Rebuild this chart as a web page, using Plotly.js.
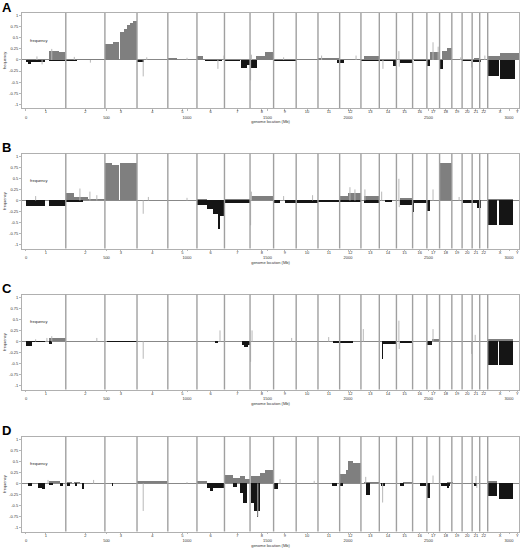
<!DOCTYPE html>
<html>
<head>
<meta charset="utf-8">
<script src="https://cdn.plot.ly/plotly-3.0.1.min.js"></script>
<style>html,body{margin:0;padding:0;background:#fff;}#chart{width:520px;height:549px;}</style>
</head>
<body>
<div id="chart"></div>
<script>
// ---------- data ----------
const chromNames = ['1','2','3','4','5','6','7','8','9','10','11','12','13','14','15','16','17','18','19','20','21','22','X','Y'];
const chromLengths = [247.2,242.9,199.5,191.3,180.9,170.9,158.8,146.3,140.3,135.4,134.5,132.3,114.1,106.4,100.3,88.8,78.8,76.1,63.8,62.4,46.9,49.7,154.9,57.8];
const mbTicks = [0,500,1000,1500,2000,2500,3000];
const yTickVals = [-1,-0.75,-0.5,-0.25,0,0.25,0.5,0.75,1];
const yTickText = ['-1','-0.75','-0.5','-0.25','0','0.25','0.5','0.75','1'];
const panelLetters = ['A','B','C','D'];

// [start Mb, end Mb, frequency]
const gainsA = [[6,118,0.03],[143,205,0.21],[205,245,0.17],[250,490,0.015],
 [491,540,0.37],[540,579,0.41],[584,609,0.64],[609,627,0.70],[627,646,0.78],[646,665,0.83],[665,688,0.87],
 [882,938,0.04],[1062,1099,0.1],[1099,1232,0.03],[1428,1484,0.08],[1484,1537,0.17],[1540,1676,0.02],
 [1677,1813,0.03],[1814,1944,0.04],[1949,2080,0.03],[2099,2192,0.09],[2410,2490,0.03],[2509,2571,0.17],
 [2586,2613,0.2],[2613,2648,0.27],[2782,2813,0.05],[2825,2866,0.03],[2871,2944,0.09],[2944,3060,0.15]];
const lossesA = [[0,12,-0.05],[12,31,-0.1],[31,118,-0.05],[143,242,-0.02],[248,317,-0.03],[690,733,-0.04],
 [1112,1218,-0.02],[1232,1329,-0.02],[1333,1370,-0.17],[1370,1391,-0.12],[1397,1435,-0.18],
 [1538,1677,-0.03],[1931,1975,-0.06],[2081,2192,-0.03],[2198,2279,-0.03],[2279,2298,-0.13],
 [2323,2404,-0.07],[2410,2488,-0.02],[2490,2509,-0.14],[2573,2588,-0.2],[2711,2769,-0.03],[2776,2825,-0.04],
 [2871,2939,-0.37],[2944,3037,-0.43]];
// [position Mb, frequency]
const spikesA = [[68,0.08],[100,-0.1],[160,0.25],[300,0.07],[400,-0.06],[728,-0.37],[750,0.06],[1000,0.05],
 [1192,-0.2],[1230,0.1],[1395,-0.46],[1400,0.12],[1600,0.06],[1836,0.1],[2050,0.1],[2217,-0.2],[2316,0.2],
 [2318,-0.15],[2528,0.4],[2560,0.3],[2700,0.06],[2768,-0.17],[2850,0.1]];

const gainsB = [[0,118,0.02],[247,298,0.16],[298,385,0.08],[385,490,0.045],
 [491,534,0.84],[534,575,0.81],[584,688,0.84],[1062,1124,0.04],[1232,1390,0.03],[1397,1534,0.1],
 [1949,2000,0.1],[2000,2080,0.16],[2099,2192,0.1],[2323,2397,0.05],[2573,2648,0.84],[2869,3026,0.045]];
const lossesB = [[0,118,-0.13],[143,247,-0.13],[248,354,-0.04],
 [1060,1122,-0.1],[1122,1163,-0.19],[1163,1192,-0.3],[1192,1230,-0.36],[1195,1202,-0.64],
 [1232,1390,-0.06],[1534,1578,-0.06],[1609,1677,-0.06],[1677,1813,-0.05],[1813,1944,-0.04],[1949,2080,-0.04],
 [2099,2192,-0.06],[2230,2273,-0.03],[2323,2397,-0.1],[2397,2488,-0.05],[2403,2408,-0.27],[2490,2509,-0.23],
 [2714,2776,-0.05],[2776,2800,-0.06],[2800,2825,-0.16],[2871,2927,-0.55],[2936,3026,-0.55]];
const spikesB = [[60,0.1],[335,0.27],[397,0.2],[440,0.12],[728,-0.3],[760,0.08],[1000,0.06],[1395,-0.56],
 [1400,0.2],[1600,0.1],[1780,0.12],[2012,0.3],[2043,0.25],[2105,0.25],[2209,0.2],[2316,0.49],[2318,-0.15],
 [2528,0.25],[2690,0.08]];

const gainsC = [[6,118,0.02],[143,247,0.07],[250,690,0.012],[882,1060,0.015],[1700,1800,0.015],
 [2520,2571,0.06],[2871,3026,0.05]];
const lossesC = [[0,35,-0.1],[35,118,-0.02],[143,161,-0.05],[500,690,-0.02],[1175,1195,-0.03],
 [1340,1355,-0.08],[1355,1380,-0.13],[1380,1391,-0.08],[1907,2031,-0.04],[2209,2219,-0.39],[2219,2302,-0.05],
 [2323,2397,-0.03],[2488,2520,-0.09],[2871,2930,-0.52],[2938,3026,-0.52]];
const spikesC = [[60,0.05],[130,0.08],[160,0.12],[440,0.08],[728,-0.39],[1205,0.25],[1395,-0.46],[1404,0.25],
 [1650,0.08],[1880,0.1],[2095,0.28],[2316,0.47],[2318,-0.17],[2528,0.28],[2768,-0.28],[2790,0.15]];

const gainsD = [[143,211,0.05],[255,286,0.04],[298,335,0.04],[690,878,0.06],[1064,1122,0.05],
 [1230,1288,0.2],[1288,1329,0.13],[1329,1360,0.16],[1360,1391,0.1],[1395,1453,0.16],[1453,1484,0.24],[1484,1536,0.3],
 [1950,1987,0.22],[1987,2001,0.31],[2001,2033,0.51],[2033,2080,0.46],[2099,2192,0.04],[2341,2397,0.04],
 [2613,2650,0.04],[2871,2927,0.05]];
const lossesD = [[14,35,-0.06],[76,99,-0.1],[99,118,-0.12],[143,168,-0.04],[211,232,-0.06],
 [255,273,-0.05],[304,317,-0.05],[346,360,-0.12],[534,543,-0.05],
 [1122,1140,-0.11],[1140,1161,-0.17],[1161,1230,-0.11],[1286,1311,-0.08],[1329,1348,-0.22],[1348,1373,-0.45],
 [1397,1416,-0.45],[1416,1453,-0.62],[1433,1438,-0.75],[1536,1567,-0.12],[1899,1934,-0.06],[1950,1969,-0.05],
 [2112,2137,-0.27],[2205,2230,-0.06],[2323,2347,-0.06],[2447,2484,-0.06],[2488,2509,-0.32],[2577,2633,-0.06],
 [2613,2625,-0.1],[2782,2801,-0.05],[2871,2927,-0.28],[2936,3026,-0.34]];
const spikesD = [[137,0.08],[420,0.08],[728,-0.62],[1000,0.03],[1440,-0.75],[1578,0.1],[1677,0.07],
 [1790,0.06],[2110,0.15],[2215,-0.43],[2302,0.3],[2528,0.18],[2795,0.17],[2800,-0.1]];

const panelGains = [gainsA,gainsB,gainsC,gainsD];
const panelLosses = [lossesA,lossesB,lossesC,lossesD];
const panelSpikes = [spikesA,spikesB,spikesC,spikesD];

// ---------- layout helpers ----------
const W = 520, H = 549;
const frameLeft = 22, frameRight = 519;
const frameTops = [13,153.5,294.5,436.5];
const frameHeight = 95;
const FONT = 'Liberation Sans, Arial, sans-serif';

// chromosome starts/ends
const chromStart = []; let acc = 0;
chromLengths.forEach(l => { chromStart.push(acc); acc += l; });
const chromEnds = chromLengths.map((l,i)=>chromStart[i]+l);
const chromCenters = chromLengths.map((l,i)=>chromStart[i]+l/2);

const tickVals = chromCenters.concat(mbTicks);
const tickText = chromNames.concat(mbTicks.map(m=>'<br>'+m));

const traces = [];
const shapes = [];
const annotations = [];
const layout = {
  width: W, height: H,
  margin: {l:0,r:0,t:0,b:0},
  paper_bgcolor:'#fff', plot_bgcolor:'#fff',
  showlegend:false, barmode:'overlay', bargap:0,
  font:{family:FONT, size:4, color:'#222'}
};

for (let p=0;p<4;p++){
  const sfx = p===0 ? '' : String(p+1);
  const xa = 'x'+sfx, ya = 'y'+sfx;
  const top = frameTops[p], bot = top+frameHeight;
  layout['xaxis'+sfx] = {
    domain:[frameLeft/W, frameRight/W], anchor: ya,
    range:[-24.8, 3062], showgrid:false, zeroline:false,
    showline:true, mirror:true, linecolor:'#b0b0b0', linewidth:1,
    ticks:'outside', ticklen:1.5, tickwidth:0.6, tickcolor:'#888',
    tickmode:'array', tickvals:tickVals, ticktext:tickText, tickangle:0,
    ticklabelstandoff:-2,
    tickfont:{size:4, color:'#333', family:FONT},
    title:{text:'genome location (Mb)', font:{size:4,color:'#333',family:FONT}, standoff:0},
    fixedrange:true
  };
  layout['yaxis'+sfx] = {
    domain:[1-bot/H, 1-top/H], anchor: xa,
    range:[-1.084, 1.061], showgrid:false,
    zeroline:true, zerolinecolor:'#555', zerolinewidth:0.7,
    showline:true, mirror:true, linecolor:'#b0b0b0', linewidth:1,
    ticks:'outside', ticklen:2, tickwidth:0.6, tickcolor:'#888',
    tickmode:'array', tickvals:yTickVals, ticktext:yTickText,
    tickfont:{size:4, color:'#333', family:FONT},
    title:{text:'frequency', font:{size:4,color:'#333',family:FONT}, standoff:2},
    fixedrange:true
  };

  // spikes
  const sx=[], sy=[];
  panelSpikes[p].forEach(s=>{ sx.push(s[0],s[0],null); sy.push(0,s[1],null); });
  traces.push({type:'scatter', mode:'lines', x:sx, y:sy, xaxis:xa, yaxis:ya,
    line:{color:'#b8b8b8', width:1}, hoverinfo:'skip'});

  // gains
  const g = panelGains[p];
  traces.push({type:'bar', x:g.map(d=>(d[0]+d[1])/2), width:g.map(d=>d[1]-d[0]), y:g.map(d=>d[2]),
    xaxis:xa, yaxis:ya, marker:{color:'#7f7f7f', line:{width:0}}, hoverinfo:'skip'});
  // losses
  const l = panelLosses[p];
  traces.push({type:'bar', x:l.map(d=>(d[0]+d[1])/2), width:l.map(d=>d[1]-d[0]), y:l.map(d=>d[2]),
    xaxis:xa, yaxis:ya, marker:{color:'#151515', line:{width:0}}, hoverinfo:'skip'});

  // chromosome boundary lines (chr1..chr22 ends)
  for (let c=0;c<22;c++){
    shapes.push({type:'line', xref:xa, yref:ya+' domain', x0:chromEnds[c], x1:chromEnds[c], y0:0, y1:1,
      line:{color:'#a0a0a0', width:1.4}, layer:'above'});
  }

  // inner label
  annotations.push({xref:xa+' domain', yref:ya+' domain', x:0.012, y:0.715, xanchor:'left', yanchor:'middle',
    text:'frequency', showarrow:false, font:{size:4,color:'#222',family:FONT}});
  // panel letter
  annotations.push({xref:'paper', yref:'paper', x:0/W, y:1-(top-6)/H, xanchor:'left', yanchor:'middle',
    text:'<b>'+panelLetters[p]+'</b>', showarrow:false, font:{size:13,color:'#000',family:FONT}});
}

Plotly.newPlot('chart', traces, {...layout, shapes, annotations}, {staticPlot:true, displayModeBar:false});
</script>
</body>
</html>
